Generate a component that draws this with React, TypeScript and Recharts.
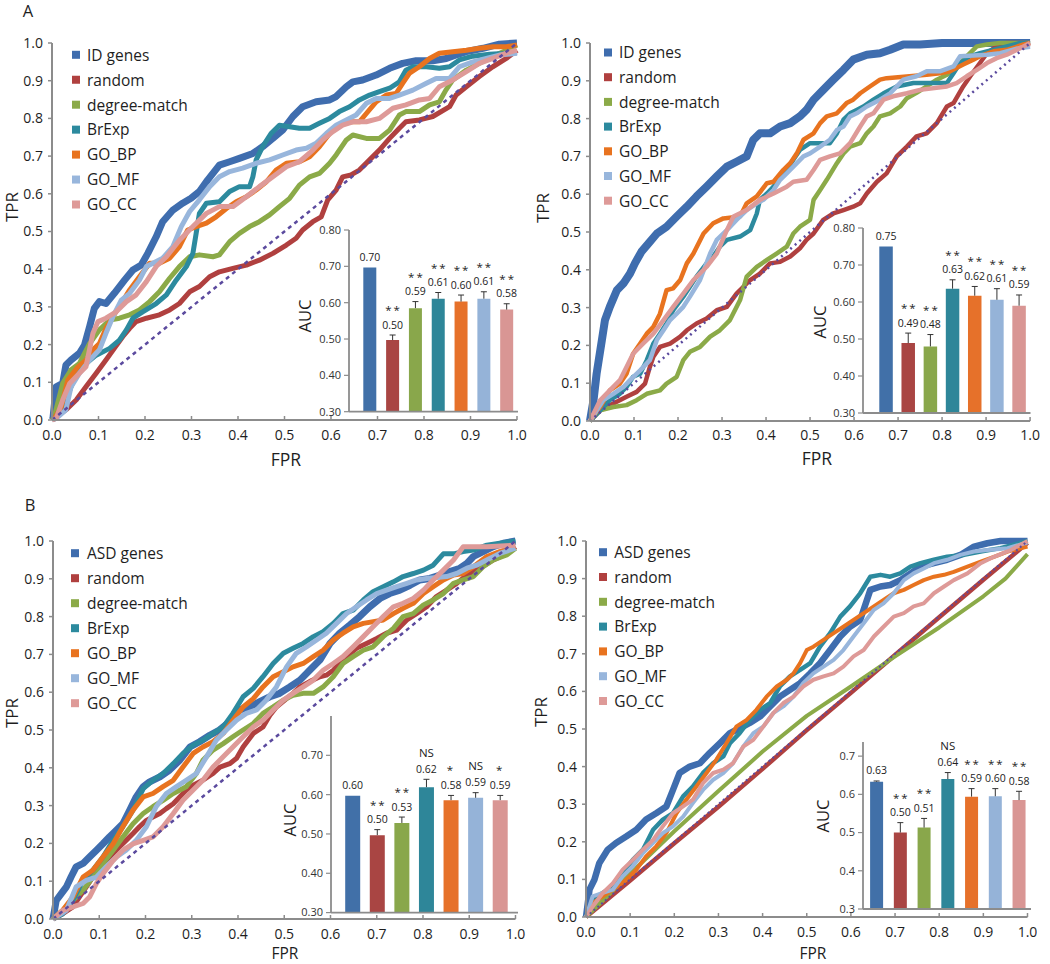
import React from 'react';
import { LineChart, Line, XAxis, YAxis, BarChart, Bar, Cell, LabelList } from 'recharts';

type P = [number, number];

const FONT = "'Open Sans', 'Noto Sans', sans-serif";
const TEXT = '#1e1e1e';
const AXIS = '#8c8c8c';

const NAMES_A = ['ID genes', 'random', 'degree-match', 'BrExp', 'GO_BP', 'GO_MF', 'GO_CC'];
const NAMES_B = ['ASD genes', 'random', 'degree-match', 'BrExp', 'GO_BP', 'GO_MF', 'GO_CC'];
const LINE_COLORS = ['#3F6DAE', '#B0403F', '#8BAA48', '#2C8A9E', '#E8731F', '#98B6DC', '#DE9A98'];
const BAR_COLORS = ['#4170A8', '#A94543', '#89A74B', '#2E8699', '#E6712A', '#95B3D8', '#D99694'];
const DIAG_COLOR = '#5B4A9E';
const ROC_TICKS = [0, 0.1, 0.2, 0.3, 0.4, 0.5, 0.6, 0.7, 0.8, 0.9, 1.0];
const DIAGONAL: P[] = [[0, 0], [1, 1]];

// ---------- Panel A, left ----------
const aL_id: P[] = [[0,0],[0.002,0.004],[0.009,0.088],[0.023,0.097],[0.03,0.146],[0.041,0.159],[0.059,0.177],[0.07,0.199],[0.081,0.248],[0.091,0.296],[0.102,0.314],[0.116,0.309],[0.134,0.336],[0.156,0.371],[0.174,0.398],[0.192,0.411],[0.206,0.442],[0.224,0.486],[0.238,0.526],[0.26,0.557],[0.281,0.575],[0.299,0.588],[0.317,0.606],[0.335,0.637],[0.36,0.676],[0.382,0.685],[0.403,0.694],[0.432,0.707],[0.453,0.725],[0.475,0.747],[0.496,0.769],[0.518,0.805],[0.539,0.831],[0.568,0.844],[0.597,0.849],[0.611,0.858],[0.633,0.884],[0.647,0.897],[0.668,0.902],[0.697,0.915],[0.726,0.933],[0.754,0.946],[0.783,0.953],[0.819,0.953],[0.848,0.959],[0.869,0.968],[0.891,0.977],[0.927,0.986],[0.962,0.997],[1,1]];
const aL_random: P[] = [[0,0],[0.03,0.027],[0.052,0.053],[0.073,0.088],[0.095,0.124],[0.116,0.159],[0.134,0.19],[0.152,0.221],[0.167,0.243],[0.181,0.261],[0.203,0.27],[0.231,0.279],[0.253,0.292],[0.274,0.309],[0.296,0.34],[0.317,0.354],[0.339,0.38],[0.36,0.393],[0.389,0.402],[0.418,0.411],[0.446,0.424],[0.475,0.442],[0.504,0.464],[0.525,0.482],[0.539,0.504],[0.561,0.526],[0.579,0.539],[0.593,0.584],[0.611,0.61],[0.625,0.645],[0.643,0.65],[0.661,0.663],[0.683,0.69],[0.704,0.716],[0.726,0.747],[0.747,0.774],[0.761,0.791],[0.79,0.796],[0.819,0.805],[0.855,0.831],[0.869,0.862],[0.891,0.884],[0.919,0.911],[0.948,0.937],[0.977,0.959],[1,0.981]];
const aL_degree: P[] = [[0,0],[0.005,0.009],[0.023,0.097],[0.041,0.133],[0.059,0.15],[0.081,0.203],[0.102,0.239],[0.124,0.265],[0.145,0.27],[0.167,0.279],[0.188,0.292],[0.21,0.314],[0.231,0.34],[0.253,0.376],[0.274,0.407],[0.296,0.433],[0.317,0.438],[0.346,0.433],[0.36,0.438],[0.382,0.473],[0.403,0.495],[0.425,0.513],[0.446,0.526],[0.468,0.544],[0.489,0.566],[0.511,0.588],[0.532,0.623],[0.554,0.645],[0.575,0.654],[0.597,0.681],[0.611,0.703],[0.633,0.743],[0.647,0.756],[0.676,0.747],[0.704,0.747],[0.726,0.769],[0.747,0.809],[0.761,0.818],[0.79,0.818],[0.812,0.836],[0.833,0.844],[0.847,0.875],[0.862,0.902],[0.891,0.928],[0.919,0.946],[0.948,0.964],[0.977,0.981],[1,0.995]];
const aL_brexp: P[] = [[0,0],[0.005,0.004],[0.03,0.053],[0.052,0.124],[0.073,0.15],[0.095,0.172],[0.124,0.19],[0.145,0.212],[0.16,0.239],[0.174,0.27],[0.195,0.287],[0.224,0.309],[0.246,0.332],[0.267,0.371],[0.289,0.407],[0.303,0.442],[0.31,0.495],[0.317,0.548],[0.332,0.575],[0.36,0.579],[0.382,0.606],[0.403,0.619],[0.425,0.619],[0.432,0.645],[0.439,0.69],[0.453,0.725],[0.471,0.76],[0.489,0.782],[0.511,0.778],[0.532,0.774],[0.554,0.774],[0.575,0.787],[0.597,0.8],[0.618,0.818],[0.64,0.831],[0.661,0.849],[0.683,0.862],[0.704,0.871],[0.726,0.88],[0.747,0.897],[0.761,0.928],[0.776,0.937],[0.805,0.937],[0.833,0.933],[0.855,0.937],[0.876,0.955],[0.905,0.965],[0.941,0.97],[0.97,0.972],[1,0.975]];
const aL_gobp: P[] = [[0,0],[0.005,0.004],[0.02,0.035],[0.034,0.106],[0.056,0.141],[0.073,0.159],[0.088,0.186],[0.102,0.203],[0.116,0.243],[0.131,0.274],[0.149,0.309],[0.167,0.345],[0.188,0.38],[0.21,0.416],[0.231,0.416],[0.253,0.429],[0.274,0.46],[0.292,0.504],[0.31,0.513],[0.332,0.522],[0.353,0.539],[0.375,0.561],[0.396,0.579],[0.418,0.592],[0.439,0.61],[0.461,0.632],[0.482,0.663],[0.504,0.681],[0.532,0.685],[0.554,0.698],[0.575,0.725],[0.597,0.76],[0.611,0.778],[0.633,0.791],[0.661,0.791],[0.676,0.813],[0.697,0.844],[0.719,0.862],[0.74,0.866],[0.754,0.893],[0.769,0.92],[0.79,0.937],[0.812,0.959],[0.833,0.973],[0.862,0.977],[0.891,0.981],[0.919,0.986],[0.948,0.99],[0.977,0.99],[1,0.995]];
const aL_gomf: P[] = [[0,0],[0.009,0.004],[0.03,0.027],[0.041,0.088],[0.059,0.124],[0.081,0.159],[0.102,0.186],[0.116,0.23],[0.131,0.274],[0.149,0.318],[0.167,0.336],[0.188,0.371],[0.203,0.407],[0.217,0.416],[0.238,0.429],[0.26,0.46],[0.278,0.513],[0.296,0.553],[0.317,0.584],[0.339,0.619],[0.36,0.645],[0.382,0.659],[0.41,0.668],[0.439,0.681],[0.468,0.69],[0.496,0.703],[0.525,0.716],[0.547,0.721],[0.568,0.734],[0.59,0.76],[0.611,0.782],[0.633,0.796],[0.654,0.809],[0.676,0.84],[0.697,0.853],[0.726,0.853],[0.747,0.862],[0.776,0.875],[0.805,0.893],[0.826,0.906],[0.855,0.906],[0.876,0.937],[0.905,0.95],[0.934,0.959],[0.962,0.968],[1,0.973]];
const aL_gocc: P[] = [[0,0],[0.009,0.004],[0.023,0.053],[0.038,0.097],[0.059,0.124],[0.073,0.141],[0.088,0.23],[0.099,0.261],[0.116,0.27],[0.138,0.287],[0.16,0.314],[0.181,0.332],[0.203,0.367],[0.224,0.407],[0.246,0.433],[0.274,0.477],[0.303,0.513],[0.332,0.548],[0.36,0.566],[0.389,0.566],[0.418,0.592],[0.446,0.619],[0.475,0.645],[0.504,0.672],[0.532,0.685],[0.561,0.716],[0.582,0.743],[0.604,0.765],[0.625,0.782],[0.647,0.791],[0.676,0.791],[0.704,0.8],[0.733,0.827],[0.761,0.836],[0.79,0.849],[0.812,0.853],[0.833,0.884],[0.862,0.902],[0.891,0.924],[0.919,0.946],[0.948,0.959],[0.977,0.973],[1,0.981]];

// ---------- Panel A, right ----------
const aR_id: P[] = [[0,0],[0.008,0.055],[0.015,0.125],[0.027,0.214],[0.034,0.267],[0.045,0.302],[0.061,0.346],[0.076,0.364],[0.091,0.39],[0.102,0.417],[0.117,0.448],[0.133,0.47],[0.152,0.496],[0.174,0.514],[0.197,0.541],[0.22,0.567],[0.242,0.594],[0.265,0.62],[0.288,0.647],[0.311,0.673],[0.333,0.686],[0.356,0.7],[0.371,0.744],[0.386,0.761],[0.409,0.761],[0.432,0.779],[0.455,0.788],[0.477,0.806],[0.492,0.823],[0.508,0.85],[0.53,0.876],[0.553,0.903],[0.576,0.929],[0.598,0.956],[0.629,0.969],[0.659,0.973],[0.682,0.982],[0.712,0.996],[0.75,0.996],[0.8,1],[1,1]];
const aR_random: P[] = [[0,0],[0.023,0.028],[0.053,0.046],[0.083,0.064],[0.106,0.077],[0.125,0.099],[0.136,0.143],[0.144,0.17],[0.159,0.196],[0.182,0.205],[0.205,0.223],[0.22,0.24],[0.242,0.258],[0.265,0.271],[0.288,0.293],[0.311,0.302],[0.333,0.337],[0.364,0.373],[0.386,0.39],[0.409,0.417],[0.432,0.421],[0.455,0.435],[0.477,0.457],[0.492,0.479],[0.508,0.496],[0.53,0.532],[0.553,0.549],[0.576,0.558],[0.598,0.567],[0.614,0.576],[0.629,0.602],[0.652,0.633],[0.674,0.655],[0.697,0.7],[0.72,0.726],[0.742,0.753],[0.765,0.761],[0.788,0.788],[0.811,0.832],[0.826,0.841],[0.848,0.885],[0.864,0.912],[0.886,0.947],[0.902,0.973],[0.924,0.991],[0.947,1],[1,1]];
const aR_degree: P[] = [[0,0],[0.023,0.028],[0.053,0.037],[0.083,0.042],[0.106,0.055],[0.129,0.072],[0.159,0.081],[0.174,0.099],[0.197,0.117],[0.212,0.161],[0.227,0.183],[0.25,0.196],[0.273,0.223],[0.295,0.24],[0.318,0.267],[0.341,0.32],[0.356,0.382],[0.379,0.408],[0.402,0.426],[0.424,0.443],[0.447,0.461],[0.462,0.496],[0.477,0.514],[0.5,0.532],[0.508,0.585],[0.523,0.611],[0.538,0.638],[0.561,0.682],[0.576,0.708],[0.591,0.726],[0.614,0.735],[0.629,0.761],[0.644,0.779],[0.659,0.806],[0.682,0.814],[0.705,0.832],[0.72,0.854],[0.742,0.868],[0.765,0.885],[0.788,0.903],[0.811,0.916],[0.833,0.938],[0.856,0.965],[0.879,0.991],[0.902,0.996],[0.932,1],[1,1]];
const aR_brexp: P[] = [[0,0],[0.023,0.028],[0.045,0.055],[0.068,0.072],[0.083,0.09],[0.098,0.117],[0.114,0.125],[0.129,0.161],[0.144,0.205],[0.159,0.231],[0.174,0.258],[0.189,0.293],[0.212,0.329],[0.227,0.355],[0.242,0.382],[0.265,0.417],[0.28,0.435],[0.295,0.461],[0.311,0.479],[0.341,0.488],[0.364,0.505],[0.379,0.549],[0.386,0.585],[0.402,0.602],[0.417,0.62],[0.432,0.647],[0.447,0.664],[0.462,0.691],[0.477,0.717],[0.5,0.735],[0.545,0.735],[0.561,0.761],[0.576,0.797],[0.591,0.814],[0.606,0.823],[0.621,0.832],[0.644,0.85],[0.667,0.867],[0.697,0.885],[0.735,0.894],[0.811,0.894],[0.826,0.92],[0.841,0.947],[0.864,0.965],[0.886,0.973],[0.917,0.982],[0.947,0.991],[0.977,1],[1,1]];
const aR_gobp: P[] = [[0,0],[0.023,0.037],[0.045,0.081],[0.068,0.099],[0.083,0.125],[0.098,0.178],[0.114,0.205],[0.129,0.231],[0.144,0.249],[0.159,0.284],[0.174,0.346],[0.189,0.351],[0.205,0.373],[0.22,0.417],[0.235,0.443],[0.258,0.496],[0.28,0.523],[0.303,0.536],[0.341,0.541],[0.356,0.576],[0.379,0.594],[0.402,0.629],[0.417,0.633],[0.439,0.664],[0.455,0.682],[0.47,0.708],[0.485,0.744],[0.508,0.761],[0.523,0.788],[0.538,0.806],[0.561,0.814],[0.583,0.841],[0.598,0.85],[0.614,0.867],[0.636,0.885],[0.659,0.903],[0.674,0.907],[0.765,0.916],[0.795,0.92],[0.818,0.925],[0.848,0.943],[0.871,0.956],[0.886,0.965],[0.917,0.978],[0.947,0.982],[0.985,0.996],[1,1]];
const aR_gomf: P[] = [[0,0],[0.03,0.055],[0.053,0.072],[0.076,0.09],[0.091,0.108],[0.114,0.134],[0.136,0.161],[0.152,0.214],[0.167,0.24],[0.182,0.267],[0.197,0.284],[0.212,0.302],[0.227,0.329],[0.25,0.373],[0.273,0.443],[0.288,0.479],[0.311,0.505],[0.333,0.532],[0.356,0.558],[0.379,0.576],[0.394,0.585],[0.417,0.611],[0.432,0.638],[0.447,0.655],[0.47,0.682],[0.485,0.7],[0.5,0.708],[0.523,0.726],[0.545,0.744],[0.561,0.77],[0.576,0.779],[0.591,0.806],[0.606,0.814],[0.629,0.832],[0.659,0.85],[0.682,0.867],[0.712,0.903],[0.742,0.912],[0.765,0.925],[0.795,0.925],[0.826,0.938],[0.841,0.965],[0.902,0.969],[0.932,0.973],[0.977,0.987],[1,0.99]];
const aR_gocc: P[] = [[0,0],[0.023,0.055],[0.045,0.081],[0.068,0.108],[0.083,0.143],[0.098,0.178],[0.121,0.205],[0.144,0.231],[0.167,0.267],[0.189,0.302],[0.212,0.337],[0.235,0.373],[0.265,0.408],[0.288,0.443],[0.311,0.505],[0.326,0.541],[0.356,0.558],[0.386,0.585],[0.417,0.602],[0.447,0.62],[0.462,0.633],[0.492,0.638],[0.508,0.664],[0.523,0.691],[0.545,0.7],[0.568,0.708],[0.591,0.735],[0.614,0.779],[0.629,0.806],[0.644,0.814],[0.667,0.85],[0.689,0.859],[0.72,0.867],[0.75,0.876],[0.811,0.885],[0.833,0.894],[0.856,0.912],[0.879,0.929],[0.902,0.947],[0.924,0.96],[0.947,0.969],[0.985,0.991],[1,1]];

// ---------- Panel B, left ----------
const bL_asd: P[] = [[0,0],[0.007,0.049],[0.018,0.067],[0.029,0.085],[0.039,0.111],[0.05,0.138],[0.065,0.147],[0.079,0.164],[0.094,0.182],[0.108,0.199],[0.122,0.217],[0.137,0.235],[0.151,0.252],[0.166,0.288],[0.18,0.323],[0.195,0.35],[0.209,0.363],[0.231,0.376],[0.252,0.394],[0.274,0.42],[0.296,0.455],[0.317,0.469],[0.339,0.486],[0.36,0.5],[0.382,0.522],[0.404,0.553],[0.425,0.561],[0.447,0.575],[0.469,0.588],[0.49,0.597],[0.512,0.614],[0.534,0.632],[0.555,0.658],[0.577,0.685],[0.599,0.729],[0.62,0.756],[0.642,0.778],[0.663,0.8],[0.685,0.826],[0.707,0.848],[0.728,0.861],[0.75,0.87],[0.772,0.883],[0.793,0.897],[0.815,0.901],[0.837,0.91],[0.858,0.919],[0.88,0.928],[0.895,0.941],[0.909,0.959],[0.93,0.972],[0.952,0.985],[0.974,0.994],[1,1]];
const bL_random: P[] = [[0,0],[0.021,0.014],[0.043,0.032],[0.057,0.058],[0.072,0.085],[0.086,0.111],[0.101,0.138],[0.115,0.155],[0.13,0.173],[0.144,0.191],[0.158,0.208],[0.173,0.226],[0.187,0.244],[0.202,0.261],[0.216,0.27],[0.231,0.279],[0.245,0.292],[0.26,0.305],[0.274,0.323],[0.288,0.341],[0.303,0.354],[0.324,0.367],[0.346,0.385],[0.361,0.402],[0.382,0.411],[0.397,0.425],[0.411,0.455],[0.433,0.491],[0.454,0.508],[0.469,0.539],[0.483,0.561],[0.505,0.583],[0.519,0.597],[0.534,0.614],[0.555,0.628],[0.577,0.641],[0.591,0.645],[0.606,0.658],[0.62,0.676],[0.635,0.694],[0.656,0.716],[0.678,0.729],[0.7,0.742],[0.721,0.756],[0.743,0.764],[0.765,0.791],[0.786,0.808],[0.808,0.826],[0.829,0.853],[0.851,0.87],[0.873,0.888],[0.895,0.91],[0.923,0.928],[0.952,0.95],[0.981,0.967],[1,0.985]];
const bL_degree: P[] = [[0,0],[0.021,0.023],[0.043,0.049],[0.065,0.076],[0.086,0.111],[0.108,0.147],[0.13,0.182],[0.151,0.217],[0.173,0.252],[0.195,0.279],[0.216,0.297],[0.238,0.314],[0.26,0.332],[0.288,0.35],[0.31,0.385],[0.324,0.42],[0.346,0.447],[0.368,0.464],[0.389,0.482],[0.411,0.5],[0.433,0.517],[0.454,0.544],[0.476,0.561],[0.498,0.579],[0.519,0.592],[0.541,0.597],[0.563,0.597],[0.584,0.614],[0.606,0.641],[0.627,0.676],[0.649,0.694],[0.671,0.711],[0.692,0.72],[0.714,0.747],[0.736,0.769],[0.757,0.8],[0.779,0.808],[0.801,0.831],[0.822,0.844],[0.844,0.861],[0.866,0.888],[0.887,0.897],[0.909,0.906],[0.93,0.932],[0.952,0.95],[0.981,0.963],[1,0.981]];
const bL_brexp: P[] = [[0,0],[0.021,0.014],[0.043,0.049],[0.065,0.102],[0.086,0.129],[0.108,0.164],[0.13,0.208],[0.151,0.244],[0.173,0.288],[0.195,0.345],[0.216,0.367],[0.238,0.385],[0.26,0.411],[0.281,0.438],[0.303,0.46],[0.324,0.473],[0.346,0.491],[0.368,0.508],[0.389,0.544],[0.411,0.588],[0.433,0.61],[0.454,0.641],[0.476,0.676],[0.498,0.703],[0.519,0.716],[0.541,0.729],[0.563,0.747],[0.584,0.76],[0.606,0.782],[0.627,0.808],[0.649,0.817],[0.671,0.844],[0.692,0.866],[0.714,0.879],[0.736,0.892],[0.757,0.906],[0.779,0.914],[0.801,0.923],[0.822,0.936],[0.844,0.966],[0.866,0.966],[0.887,0.972],[0.909,0.976],[0.938,0.989],[0.966,0.994],[1,1]];
const bL_gobp: P[] = [[0,0],[0.021,0.023],[0.043,0.058],[0.065,0.111],[0.086,0.129],[0.108,0.164],[0.13,0.199],[0.151,0.244],[0.173,0.288],[0.195,0.323],[0.216,0.332],[0.238,0.35],[0.26,0.367],[0.281,0.402],[0.303,0.438],[0.324,0.455],[0.346,0.469],[0.368,0.491],[0.389,0.526],[0.411,0.561],[0.433,0.583],[0.454,0.614],[0.476,0.641],[0.498,0.654],[0.519,0.667],[0.541,0.676],[0.563,0.694],[0.584,0.711],[0.606,0.738],[0.627,0.756],[0.649,0.773],[0.671,0.782],[0.714,0.791],[0.736,0.808],[0.757,0.822],[0.779,0.835],[0.801,0.861],[0.822,0.879],[0.844,0.897],[0.866,0.91],[0.887,0.914],[0.909,0.932],[0.938,0.959],[0.966,0.972],[1,0.985]];
const bL_gomf: P[] = [[0,0],[0.029,0.023],[0.05,0.085],[0.072,0.102],[0.094,0.111],[0.115,0.138],[0.137,0.164],[0.158,0.182],[0.18,0.208],[0.202,0.244],[0.223,0.297],[0.245,0.332],[0.267,0.35],[0.288,0.367],[0.31,0.385],[0.332,0.429],[0.353,0.473],[0.375,0.5],[0.397,0.526],[0.418,0.544],[0.44,0.553],[0.461,0.579],[0.483,0.614],[0.505,0.667],[0.526,0.703],[0.548,0.72],[0.57,0.738],[0.591,0.756],[0.613,0.782],[0.635,0.808],[0.656,0.826],[0.678,0.844],[0.7,0.861],[0.721,0.87],[0.743,0.879],[0.765,0.888],[0.786,0.897],[0.808,0.901],[0.851,0.906],[0.873,0.914],[0.895,0.928],[0.916,0.936],[0.938,0.95],[0.966,0.967],[1,0.981]];
const bL_gocc: P[] = [[0,0],[0.021,0.023],[0.043,0.032],[0.065,0.041],[0.079,0.058],[0.094,0.094],[0.108,0.12],[0.13,0.155],[0.151,0.182],[0.173,0.199],[0.195,0.208],[0.216,0.217],[0.238,0.244],[0.26,0.279],[0.281,0.314],[0.303,0.341],[0.324,0.367],[0.346,0.402],[0.368,0.429],[0.389,0.455],[0.411,0.482],[0.433,0.508],[0.454,0.526],[0.476,0.553],[0.498,0.579],[0.519,0.597],[0.541,0.614],[0.563,0.632],[0.584,0.658],[0.606,0.676],[0.627,0.694],[0.649,0.72],[0.671,0.747],[0.692,0.773],[0.714,0.8],[0.736,0.826],[0.757,0.835],[0.779,0.848],[0.801,0.87],[0.822,0.897],[0.844,0.923],[0.866,0.95],[0.887,0.985],[0.938,0.985],[1,0.989]];

// ---------- Panel B, right ----------
const bR_asd: P[] = [[0,0],[0.008,0.073],[0.019,0.099],[0.03,0.143],[0.049,0.179],[0.068,0.197],[0.091,0.214],[0.114,0.232],[0.136,0.259],[0.159,0.276],[0.182,0.294],[0.197,0.338],[0.212,0.383],[0.235,0.4],[0.258,0.409],[0.28,0.436],[0.303,0.462],[0.326,0.489],[0.348,0.502],[0.371,0.516],[0.394,0.533],[0.417,0.56],[0.439,0.586],[0.462,0.604],[0.485,0.622],[0.508,0.648],[0.53,0.675],[0.553,0.71],[0.576,0.746],[0.598,0.772],[0.621,0.79],[0.644,0.87],[0.667,0.879],[0.689,0.883],[0.712,0.896],[0.735,0.914],[0.758,0.932],[0.788,0.941],[0.818,0.95],[0.848,0.963],[0.879,0.985],[0.909,0.994],[0.939,1],[1,1]];
const bR_random: P[] = [[0,0],[0.1,0.097],[0.2,0.196],[0.3,0.293],[0.4,0.394],[0.5,0.497],[0.6,0.596],[0.7,0.697],[0.8,0.797],[0.9,0.897],[1,0.995]];
const bR_degree: P[] = [[0,0],[0.1,0.115],[0.2,0.228],[0.3,0.335],[0.4,0.44],[0.5,0.535],[0.6,0.613],[0.7,0.693],[0.8,0.77],[0.9,0.853],[0.95,0.9],[1,0.965]];
const bR_brexp: P[] = [[0,0],[0.015,0.046],[0.038,0.064],[0.061,0.081],[0.083,0.117],[0.106,0.152],[0.129,0.179],[0.152,0.232],[0.174,0.259],[0.197,0.276],[0.22,0.321],[0.242,0.347],[0.265,0.383],[0.288,0.409],[0.311,0.427],[0.326,0.462],[0.348,0.489],[0.371,0.524],[0.394,0.551],[0.417,0.569],[0.439,0.613],[0.462,0.64],[0.485,0.657],[0.508,0.675],[0.53,0.719],[0.553,0.755],[0.576,0.799],[0.598,0.826],[0.621,0.861],[0.644,0.905],[0.667,0.91],[0.689,0.905],[0.712,0.914],[0.735,0.932],[0.758,0.941],[0.788,0.95],[0.818,0.958],[0.856,0.963],[0.894,0.972],[0.939,0.981],[1,1]];
const bR_gobp: P[] = [[0,0],[0.015,0.037],[0.038,0.055],[0.061,0.073],[0.091,0.099],[0.114,0.126],[0.136,0.161],[0.159,0.188],[0.182,0.223],[0.205,0.276],[0.227,0.312],[0.25,0.347],[0.273,0.383],[0.295,0.418],[0.318,0.462],[0.341,0.507],[0.364,0.524],[0.386,0.551],[0.409,0.586],[0.432,0.613],[0.455,0.631],[0.47,0.648],[0.485,0.675],[0.5,0.71],[0.515,0.719],[0.538,0.737],[0.561,0.755],[0.583,0.772],[0.606,0.79],[0.629,0.808],[0.652,0.826],[0.674,0.843],[0.697,0.861],[0.72,0.87],[0.742,0.883],[0.765,0.896],[0.788,0.905],[0.811,0.91],[0.833,0.918],[0.864,0.932],[0.894,0.945],[0.924,0.958],[0.955,0.972],[1,0.985]];
const bR_gomf: P[] = [[0,0],[0.015,0.055],[0.038,0.064],[0.061,0.073],[0.083,0.108],[0.106,0.135],[0.129,0.17],[0.152,0.197],[0.174,0.223],[0.197,0.241],[0.22,0.267],[0.242,0.303],[0.265,0.338],[0.288,0.365],[0.311,0.383],[0.333,0.409],[0.356,0.453],[0.379,0.489],[0.402,0.507],[0.424,0.542],[0.447,0.56],[0.47,0.586],[0.492,0.622],[0.515,0.648],[0.538,0.666],[0.561,0.684],[0.583,0.71],[0.606,0.746],[0.629,0.781],[0.652,0.817],[0.674,0.834],[0.697,0.861],[0.72,0.896],[0.742,0.914],[0.765,0.927],[0.788,0.941],[0.818,0.95],[0.848,0.963],[0.879,0.972],[0.909,0.976],[0.955,0.981],[1,0.996]];
const bR_gocc: P[] = [[0,0],[0.015,0.028],[0.038,0.064],[0.061,0.09],[0.083,0.126],[0.106,0.152],[0.129,0.179],[0.152,0.205],[0.174,0.241],[0.197,0.276],[0.22,0.294],[0.242,0.312],[0.265,0.356],[0.288,0.383],[0.311,0.392],[0.333,0.409],[0.356,0.453],[0.379,0.471],[0.402,0.507],[0.424,0.542],[0.447,0.569],[0.47,0.586],[0.492,0.613],[0.515,0.631],[0.538,0.64],[0.561,0.648],[0.583,0.666],[0.606,0.693],[0.629,0.71],[0.652,0.746],[0.674,0.772],[0.697,0.799],[0.72,0.808],[0.742,0.826],[0.765,0.834],[0.788,0.861],[0.811,0.879],[0.833,0.896],[0.864,0.914],[0.894,0.941],[0.924,0.958],[0.962,0.976],[1,1]];

// ---------- Inset AUC bars ----------
const aL_auc = [0.697, 0.497, 0.585, 0.611, 0.603, 0.611, 0.581];
const aL_err = [0, 0.014, 0.018, 0.017, 0.018, 0.019, 0.016];
const aL_lab = ['0.70', '0.50', '0.59', '0.61', '0.60', '0.61', '0.58'];
const aL_sig = ['', '**', '**', '**', '**', '**', '**'];

const aR_auc = [0.75, 0.489, 0.48, 0.636, 0.617, 0.606, 0.59];
const aR_err = [0, 0.027, 0.032, 0.024, 0.025, 0.03, 0.029];
const aR_lab = ['0.75', '0.49', '0.48', '0.63', '0.62', '0.61', '0.59'];
const aR_sig = ['', '**', '**', '**', '**', '**', '**'];

const bL_auc = [0.597, 0.497, 0.528, 0.619, 0.586, 0.592, 0.586];
const bL_err = [0, 0.014, 0.015, 0.02, 0.012, 0.013, 0.012];
const bL_lab = ['0.60', '0.50', '0.53', '0.62', '0.58', '0.59', '0.59'];
const bL_sig = ['', '**', '**', 'NS', '*', 'NS', '*'];

const bR_auc = [0.633, 0.5, 0.513, 0.64, 0.594, 0.595, 0.585];
const bR_err = [0.002, 0.026, 0.024, 0.017, 0.021, 0.02, 0.023];
const bR_lab = ['0.63', '0.50', '0.51', '0.64', '0.59', '0.60', '0.58'];
const bR_sig = ['', '**', '**', 'NS', '**', '**', '**'];

const AUC_TICKS_2 = [0.3, 0.4, 0.5, 0.6, 0.7, 0.8];
const AUC_TICKS_B = [0.3, 0.4, 0.5, 0.6, 0.7];

// ---------- layout configs ----------
type RocCfg = { x0: number; x1: number; y0: number; y1: number; series: P[][]; widths: number[]; dash: string; dashW: number };
const ROC_PANELS: RocCfg[] = [
  { x0: 52, x1: 517, y0: 43, y1: 420, series: [aL_id, aL_random, aL_degree, aL_brexp, aL_gobp, aL_gomf, aL_gocc], widths: [7, 5, 5, 5, 5, 5, 5], dash: '4 4', dashW: 2.5 },
  { x0: 589.5, x1: 1029.6, y0: 43, y1: 421, series: [aR_id, aR_random, aR_degree, aR_brexp, aR_gobp, aR_gomf, aR_gocc], widths: [8, 4.5, 4.5, 4.5, 4.5, 4.5, 4.5], dash: '2 4', dashW: 2.5 },
  { x0: 53, x1: 515.5, y0: 541, y1: 919, series: [bL_asd, bL_random, bL_degree, bL_brexp, bL_gobp, bL_gomf, bL_gocc], widths: [7, 5, 5, 5, 5, 5, 5], dash: '4 4', dashW: 2.5 },
  { x0: 585.5, x1: 1027, y0: 541, y1: 917, series: [bR_asd, bR_random, bR_degree, bR_brexp, bR_gobp, bR_gomf, bR_gocc], widths: [6.5, 4.5, 4, 4.5, 4, 4, 4], dash: '2 3', dashW: 2 },
];

type InsetCfg = { axisX: number; right: number; top: number; bottom: number; padL: number; padR: number; barSize: number; domain: [number, number]; ticks: number[]; dec: number; vals: number[]; errs: number[]; labs: string[]; sigs: string[] };
const INSETS: InsetCfg[] = [
  { axisX: 349, right: 518, top: 230, bottom: 411.7, padL: 9.3, padR: 0, barSize: 13, domain: [0.3, 0.8], ticks: AUC_TICKS_2, dec: 2, vals: aL_auc, errs: aL_err, labs: aL_lab, sigs: aL_sig },
  { axisX: 863.3, right: 1030.8, top: 228.3, bottom: 413.3, padL: 12.3, padR: 0, barSize: 13.5, domain: [0.3, 0.8], ticks: AUC_TICKS_2, dec: 2, vals: aR_auc, errs: aR_err, labs: aR_lab, sigs: aR_sig },
  { axisX: 331, right: 518, top: 715.7, bottom: 912.3, padL: 9.2, padR: 5.7, barSize: 15, domain: [0.3, 0.8], ticks: AUC_TICKS_B, dec: 2, vals: bL_auc, errs: bL_err, labs: bL_lab, sigs: bL_sig },
  { axisX: 862.7, right: 1031, top: 742, bottom: 909, padL: 2.1, padR: 0, barSize: 13, domain: [0.3, 0.737], ticks: AUC_TICKS_B, dec: 1, vals: bR_auc, errs: bR_err, labs: bR_lab, sigs: bR_sig },
];

const LEGENDS = [
  { names: NAMES_A, sqX: 72, txX: 87, y0: 54.8, step: 24.95 },
  { names: NAMES_A, sqX: 604, txX: 619, y0: 52.5, step: 24.7 },
  { names: NAMES_B, sqX: 71, txX: 87, y0: 553.2, step: 25 },
  { names: NAMES_B, sqX: 599, txX: 614.3, y0: 552.2, step: 24.8 },
];

const TITLES = {
  letters: [{ t: 'A', x: 28, y: 17 }, { t: 'B', x: 30, y: 511 }],
  tpr: [{ x: 11, y: 207 }, { x: 542, y: 208 }, { x: 11, y: 713 }, { x: 540, y: 712 }],
  fpr: [{ x: 286, y: 466, s: 17.5 }, { x: 817, y: 465, s: 17.5 }, { x: 285, y: 959.4, s: 15.5 }, { x: 813, y: 959.4, s: 15.5 }],
  auc: [{ x: 304, y: 316 }, { x: 819, y: 322 }, { x: 289, y: 820 }, { x: 822, y: 816 }],
};

const toPts = (arr: P[]) => arr.map(([x, y]) => ({ x, y }));

const XTick = (props: any) => {
  const { x, y, payload } = props;
  return (
    <g>
      <line x1={x} x2={x} y1={y} y2={y - 4} stroke={AXIS} strokeWidth={1.5} />
      <text x={x} y={y + 19.5} textAnchor="middle" fontSize={14} fill={TEXT} fontFamily={FONT}>
        {Number(payload.value).toFixed(1)}
      </text>
    </g>
  );
};

function RocPanel({ cfg }: { cfg: RocCfg }) {
  const ML = 50, MT = 10, MR = 10, XH = 40;
  const w = cfg.x1 - cfg.x0 + ML + MR;
  const h = cfg.y1 - cfg.y0 + MT + XH;
  return (
    <div style={{ position: 'absolute', left: cfg.x0 - ML, top: cfg.y0 - MT }}>
      <LineChart width={w} height={h} margin={{ top: MT, right: MR, bottom: 0, left: 0 }}>
        <XAxis
          type="number"
          dataKey="x"
          domain={[0, 1]}
          ticks={ROC_TICKS}
          interval={0}
          height={XH}
          tickSize={0}
          tickMargin={0}
          tickLine={false}
          axisLine={{ stroke: AXIS, strokeWidth: 2 }}
          tick={<XTick />}
        />
        <YAxis
          type="number"
          dataKey="y"
          domain={[0, 1]}
          ticks={ROC_TICKS}
          interval={0}
          width={ML}
          tickSize={4}
          tickMargin={5}
          tickLine={{ stroke: AXIS, strokeWidth: 1.5 }}
          axisLine={{ stroke: AXIS, strokeWidth: 2 }}
          tick={{ fontSize: 14, fill: TEXT, fontFamily: FONT }}
          tickFormatter={(v: number) => v.toFixed(1)}
        />
        {cfg.series.map((s, i) => (
          <Line
            key={i}
            data={toPts(s)}
            dataKey="y"
            type="linear"
            stroke={LINE_COLORS[i]}
            strokeWidth={cfg.widths[i]}
            strokeLinejoin="round"
            dot={false}
            activeDot={false}
            legendType="none"
            isAnimationActive={false}
          />
        ))}
        <Line
          data={toPts(DIAGONAL)}
          dataKey="y"
          type="linear"
          stroke={DIAG_COLOR}
          strokeWidth={cfg.dashW}
          strokeDasharray={cfg.dash}
          dot={false}
          activeDot={false}
          legendType="none"
          isAnimationActive={false}
        />
      </LineChart>
    </div>
  );
}

function Inset({ cfg }: { cfg: InsetCfg }) {
  const YW = 45, MT = 12, XH = 10;
  const plotW = cfg.right - cfg.axisX;
  const plotH = cfg.bottom - cfg.top;
  const data = cfg.vals.map((v, i) => ({ name: `c${i}`, v }));
  const min = cfg.domain[0];
  const renderLabel = (p: any) => {
    const vb = p.viewBox || {};
    const x = Number(p.x ?? vb.x);
    const y = Number(p.y ?? vb.y);
    const width = Number(p.width ?? vb.width);
    const rawH = Number(p.height ?? vb.height);
    const height = Math.abs(rawH);
    let i = p.index;
    if (i === undefined || i === null) i = cfg.vals.indexOf(Number(p.value));
    const v = cfg.vals[i];
    const top = Math.min(y, y + rawH);
    const pxPer = height / (v - min);
    const e = cfg.errs[i];
    const eTop = top - e * pxPer;
    const cx = x + width / 2;
    const base = eTop - 6.5;
    const sig = cfg.sigs[i];
    const isStar = sig.indexOf('*') >= 0;
    return (
      <g key={`lab${i}`}>
        {e > 0 && (
          <g>
            <line x1={cx} x2={cx} y1={top} y2={eTop} stroke="#333" strokeWidth={1} />
            <line x1={cx - 3} x2={cx + 3} y1={eTop} y2={eTop} stroke="#333" strokeWidth={1} />
          </g>
        )}
        <text x={cx} y={base} textAnchor="middle" fontSize={10.5} fill="#222" fontFamily={FONT}>
          {cfg.labs[i]}
        </text>
        {sig && (
          <text
            x={cx + (isStar && sig.length > 1 ? 1 : 0)}
            y={isStar ? base - 14.5 : base - 16}
            textAnchor="middle"
            fontSize={11.5}
            letterSpacing={isStar ? 2 : 0}
            fill="#222"
            fontFamily={FONT}
          >
            {sig}
          </text>
        )}
      </g>
    );
  };
  return (
    <div style={{ position: 'absolute', left: cfg.axisX - YW, top: cfg.top - MT }}>
      <BarChart width={YW + plotW} height={MT + plotH + XH} data={data} margin={{ top: MT, right: 0, bottom: 0, left: 0 }}>
        <XAxis
          dataKey="name"
          type="category"
          tick={false}
          tickLine={false}
          height={XH}
          axisLine={{ stroke: AXIS, strokeWidth: 1.8 }}
          padding={{ left: cfg.padL, right: cfg.padR }}
        />
        <YAxis
          type="number"
          domain={cfg.domain}
          ticks={cfg.ticks}
          interval={0}
          width={YW}
          tickSize={5}
          tickMargin={3}
          tickLine={{ stroke: AXIS, strokeWidth: 1.2 }}
          axisLine={{ stroke: AXIS, strokeWidth: 1.8 }}
          tick={{ fontSize: 11, fill: '#333', fontFamily: FONT }}
          tickFormatter={(v: number) => v.toFixed(cfg.dec)}
        />
        <Bar dataKey="v" barSize={cfg.barSize} isAnimationActive={false}>
          {data.map((d, i) => (
            <Cell key={d.name} fill={BAR_COLORS[i]} />
          ))}
          <LabelList dataKey="v" content={renderLabel} />
        </Bar>
      </BarChart>
    </div>
  );
}

export default function App() {
  return (
    <div style={{ position: 'absolute', left: 0, top: 0, width: 1050, height: 964, background: '#fff', fontFamily: FONT, overflow: 'hidden' }}>
      {ROC_PANELS.map((c, i) => (
        <RocPanel key={`roc${i}`} cfg={c} />
      ))}
      {INSETS.map((c, i) => (
        <Inset key={`ins${i}`} cfg={c} />
      ))}
      <svg width={1050} height={964} style={{ position: 'absolute', left: 0, top: 0, pointerEvents: 'none' }} fontFamily={FONT}>
        {TITLES.letters.map((l) => (
          <text key={l.t} x={l.x} y={l.y} textAnchor="middle" fontSize={16.5} fill={TEXT}>
            {l.t}
          </text>
        ))}
        {TITLES.tpr.map((p, i) => (
          <text key={`tpr${i}`} transform={`translate(${p.x},${p.y}) rotate(-90)`} textAnchor="middle" dominantBaseline="central" fontSize={17} fill={TEXT}>
            TPR
          </text>
        ))}
        {TITLES.fpr.map((p, i) => (
          <text key={`fpr${i}`} x={p.x} y={p.y} textAnchor="middle" fontSize={p.s} fill={TEXT}>
            FPR
          </text>
        ))}
        {TITLES.auc.map((p, i) => (
          <text key={`auc${i}`} transform={`translate(${p.x},${p.y}) rotate(-90)`} textAnchor="middle" dominantBaseline="central" fontSize={16.5} fill={TEXT}>
            AUC
          </text>
        ))}
        {LEGENDS.map((lg, li) => (
          <g key={`lg${li}`}>
            {lg.names.map((n, i) => {
              const cy = lg.y0 + i * lg.step;
              return (
                <g key={n}>
                  <rect x={lg.sqX} y={cy - 4} width={8} height={8} fill={LINE_COLORS[i]} />
                  <text x={lg.txX} y={cy + 5.8} fontSize={15.5} fill={TEXT}>
                    {n}
                  </text>
                </g>
              );
            })}
          </g>
        ))}
      </svg>
    </div>
  );
}
